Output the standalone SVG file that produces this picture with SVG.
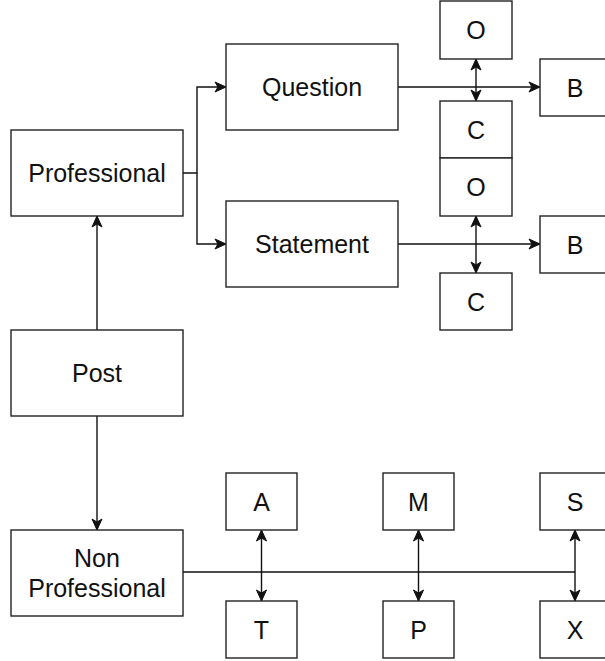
<svg xmlns="http://www.w3.org/2000/svg" width="605" height="661" viewBox="0 0 605 661">
<defs>
<marker id="arr" markerUnits="userSpaceOnUse" markerWidth="13" markerHeight="13" viewBox="0 0 13 13" refX="12" refY="6.5" orient="auto-start-reverse">
<path d="M1,1.5 L12,6.5 L1,11.5 L4,6.5 Z" fill="#111" stroke="#111" stroke-width="1"/>
</marker>
<style>
.box{fill:#fff;stroke:#222;stroke-width:1.4}
.lbl{font-family:"Liberation Sans",Arial,Helvetica,sans-serif;font-size:25px;fill:#111;text-anchor:middle;dominant-baseline:central}
.ln{fill:none;stroke:#111;stroke-width:1.4}
.a1{marker-end:url(#arr)}
.a2{marker-start:url(#arr);marker-end:url(#arr)}
</style>
</defs>
<rect width="605" height="661" fill="#fff"/>
<g id="connectors">
<path class="ln a1" d="M183,173 H197 V87 H226"/>
<path class="ln a1" d="M197,173 V244 H226"/>
<path class="ln a1" d="M97,330 V216"/>
<path class="ln a1" d="M97,416 V530"/>
<path class="ln a1" d="M398,87 H540"/>
<path class="ln a1" d="M398,244 H540"/>
<path class="ln a2" d="M476,59 V101"/>
<path class="ln a2" d="M476,216 V273"/>
<path class="ln" d="M183,572 H575"/>
<path class="ln a2" d="M261.5,530 V601"/>
<path class="ln a2" d="M418.5,530 V601"/>
<path class="ln a2" d="M575,530 V601"/>
</g>
<g id="professional"><rect class="box" x="11" y="130" width="172" height="86"/><text class="lbl" x="97" y="173">Professional</text></g>
<g id="post"><rect class="box" x="11" y="330" width="172" height="86"/><text class="lbl" x="97" y="373">Post</text></g>
<g id="nonprofessional"><rect class="box" x="11" y="530" width="172" height="86"/><text class="lbl" x="97" y="558">Non</text><text class="lbl" x="97" y="588">Professional</text></g>
<g id="question"><rect class="box" x="226" y="44" width="172" height="86"/><text class="lbl" x="312" y="87">Question</text></g>
<g id="statement"><rect class="box" x="226" y="201" width="172" height="86"/><text class="lbl" x="312" y="244">Statement</text></g>
<g id="o1"><rect class="box" x="440" y="1" width="72" height="58"/><text class="lbl" x="476" y="30">O</text></g>
<g id="c1"><rect class="box" x="440" y="101" width="72" height="57"/><text class="lbl" x="476" y="130">C</text></g>
<g id="o2"><rect class="box" x="440" y="158" width="72" height="58"/><text class="lbl" x="476" y="187">O</text></g>
<g id="c2"><rect class="box" x="440" y="273" width="72" height="57"/><text class="lbl" x="476" y="302">C</text></g>
<g id="b1"><rect class="box" x="540" y="59" width="72" height="57"/><text class="lbl" x="575" y="88">B</text></g>
<g id="b2"><rect class="box" x="540" y="216" width="72" height="57"/><text class="lbl" x="575" y="245">B</text></g>
<g id="a"><rect class="box" x="226" y="473" width="71" height="57"/><text class="lbl" x="261.5" y="502">A</text></g>
<g id="m"><rect class="box" x="383" y="473" width="71" height="57"/><text class="lbl" x="418.5" y="502">M</text></g>
<g id="s"><rect class="box" x="540" y="473" width="71" height="57"/><text class="lbl" x="575" y="502">S</text></g>
<g id="t"><rect class="box" x="226" y="601" width="71" height="57"/><text class="lbl" x="261.5" y="630">T</text></g>
<g id="p"><rect class="box" x="383" y="601" width="71" height="57"/><text class="lbl" x="418.5" y="630">P</text></g>
<g id="x"><rect class="box" x="540" y="601" width="71" height="57"/><text class="lbl" x="575" y="630">X</text></g>
</svg>
